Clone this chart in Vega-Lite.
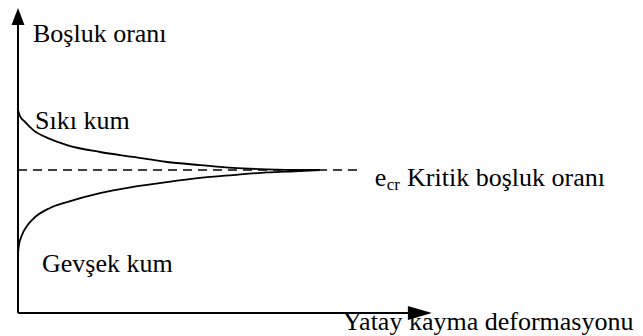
{
  "$schema": "https://vega.github.io/schema/vega-lite/v6.json",
  "autosize": {"type": "none"},
  "width": 643,
  "height": 336,
  "padding": 0,
  "background": "white",
  "config": {"view": {"stroke": null}},
  "datasets": {
    "curves": [
      {"sand": "Sıkı kum", "shear": 0, "e": 0.994},
      {"sand": "Sıkı kum", "shear": 0.48, "e": 0.964},
      {"sand": "Sıkı kum", "shear": 1.69, "e": 0.935},
      {"sand": "Sıkı kum", "shear": 3.62, "e": 0.896},
      {"sand": "Sıkı kum", "shear": 7.73, "e": 0.852},
      {"sand": "Sıkı kum", "shear": 11.84, "e": 0.822},
      {"sand": "Sıkı kum", "shear": 19.81, "e": 0.788},
      {"sand": "Sıkı kum", "shear": 27.78, "e": 0.764},
      {"sand": "Sıkı kum", "shear": 35.99, "e": 0.739},
      {"sand": "Sıkı kum", "shear": 43.96, "e": 0.724},
      {"sand": "Sıkı kum", "shear": 51.93, "e": 0.71},
      {"sand": "Sıkı kum", "shear": 60.14, "e": 0.703},
      {"sand": "Sıkı kum", "shear": 68.12, "e": 0.7},
      {"sand": "Sıkı kum", "shear": 72.95, "e": 0.7},
      {"sand": "Gevşek kum", "shear": 0, "e": 0.294},
      {"sand": "Gevşek kum", "shear": 0.24, "e": 0.333},
      {"sand": "Gevşek kum", "shear": 0.97, "e": 0.382},
      {"sand": "Gevşek kum", "shear": 2.17, "e": 0.426},
      {"sand": "Gevşek kum", "shear": 3.62, "e": 0.46},
      {"sand": "Gevşek kum", "shear": 7.73, "e": 0.514},
      {"sand": "Gevşek kum", "shear": 11.84, "e": 0.543},
      {"sand": "Gevşek kum", "shear": 19.81, "e": 0.587},
      {"sand": "Gevşek kum", "shear": 27.78, "e": 0.617},
      {"sand": "Gevşek kum", "shear": 35.99, "e": 0.641},
      {"sand": "Gevşek kum", "shear": 43.96, "e": 0.661},
      {"sand": "Gevşek kum", "shear": 51.93, "e": 0.675},
      {"sand": "Gevşek kum", "shear": 60.14, "e": 0.688},
      {"sand": "Gevşek kum", "shear": 68.12, "e": 0.695},
      {"sand": "Gevşek kum", "shear": 72.95, "e": 0.7}
    ],
    "critical": [{"shear": 0, "shear2": 82.6, "e": 0.7}],
    "axisLines": [
      {"name": "y", "shear": 0, "shear2": 0, "e": 0, "e2": 1.424},
      {"name": "x", "shear": 0, "shear2": 95.2, "e": 0, "e2": 0}
    ],
    "arrowUp": [{"shear": 0, "e": 1.451}],
    "arrowRight": [{"shear": 97.1, "e": 0}],
    "labels": [
      {"text": "Boşluk oranı", "shear": 3.62, "e": 1.326},
      {"text": "Sıkı kum", "shear": 4.1, "e": 0.9},
      {"text": "Gevşek kum", "shear": 5.8, "e": 0.2007},
      {"text": "e", "shear": 86.2, "e": 0.6216},
      {"text": "Kritik boşluk oranı", "shear": 94.0, "e": 0.6216},
      {"text": "Yatay kayma deformasyonu", "shear": 78.5, "e": -0.0832}
    ],
    "subscript": [{"text": "cr", "shear": 89.1, "e": 0.602}]
  },
  "encoding": {
    "x": {"field": "shear", "type": "quantitative", "axis": null,
          "scale": {"domain": [-4.35, 151.0], "nice": false, "zero": false}},
    "y": {"field": "e", "type": "quantitative", "axis": null,
          "scale": {"domain": [-0.1126, 1.532], "nice": false, "zero": false}}
  },
  "layer": [
    {
      "data": {"name": "critical"},
      "mark": {"type": "rule", "color": "black", "strokeWidth": 1.5, "strokeDash": [9, 6]},
      "encoding": {"x2": {"field": "shear2"}}
    },
    {
      "data": {"name": "curves"},
      "mark": {"type": "line", "color": "black", "strokeWidth": 1.8, "interpolate": "monotone"},
      "encoding": {"detail": {"field": "sand"}, "order": {"field": "shear", "type": "quantitative"}}
    },
    {
      "data": {"name": "axisLines"},
      "mark": {"type": "rule", "color": "black", "strokeWidth": 2},
      "encoding": {"x2": {"field": "shear2"}, "y2": {"field": "e2"}}
    },
    {
      "data": {"name": "arrowUp"},
      "mark": {"type": "point", "filled": true, "color": "black", "opacity": 1,
               "shape": "M0,-1L0.76,1L-0.76,1Z", "size": 289}
    },
    {
      "data": {"name": "arrowRight"},
      "mark": {"type": "point", "filled": true, "color": "black", "opacity": 1,
               "shape": "M1,0L-1,-0.58L-1,0.58Z", "size": 576}
    },
    {
      "data": {"name": "labels"},
      "mark": {"type": "text", "font": "Liberation Serif", "fontSize": 26, "color": "black",
               "align": "left", "baseline": "alphabetic"},
      "encoding": {"text": {"field": "text"}}
    },
    {
      "data": {"name": "subscript"},
      "mark": {"type": "text", "font": "Liberation Serif", "fontSize": 17, "color": "black",
               "align": "left", "baseline": "alphabetic"},
      "encoding": {"text": {"field": "text"}}
    }
  ]
}
